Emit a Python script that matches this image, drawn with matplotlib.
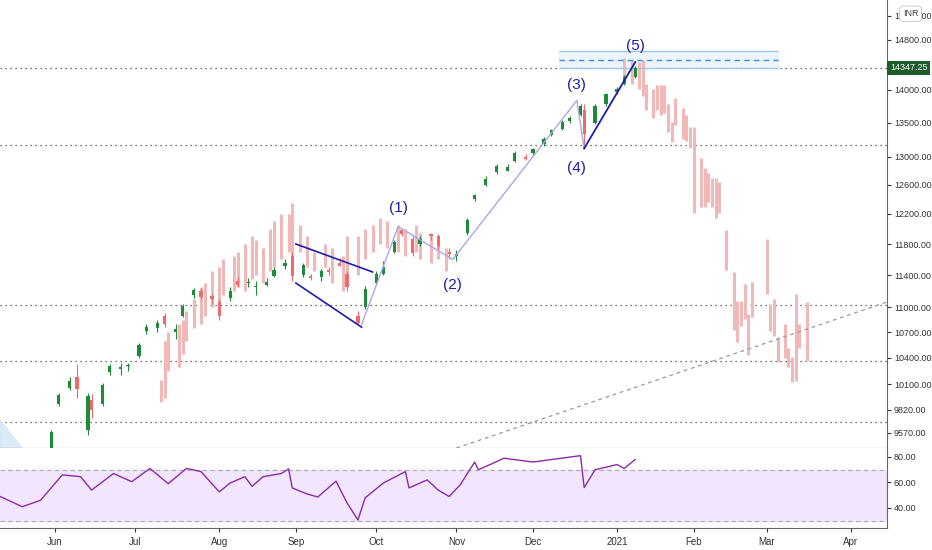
import numpy as np
import matplotlib
matplotlib.use("Agg")
import matplotlib.pyplot as plt
from matplotlib.ticker import FixedLocator, NullLocator

plt.rcParams["font.family"] = ["Liberation Sans", "DejaVu Sans"]

# daily candles (sampled), Nifty 50
candle_dates = ["2020-05-20", "2020-05-26", "2020-05-29",
                "2020-06-02", "2020-06-05", "2020-06-09", "2020-06-12", "2020-06-15", "2020-06-18", "2020-06-22", "2020-06-25", "2020-06-29",
                "2020-07-02", "2020-07-06", "2020-07-09", "2020-07-13", "2020-07-16", "2020-07-20", "2020-07-23", "2020-07-27", "2020-07-30",
                "2020-08-03", "2020-08-06", "2020-08-10", "2020-08-13", "2020-08-17", "2020-08-20", "2020-08-24", "2020-08-27", "2020-08-31",
                "2020-09-03", "2020-09-07", "2020-09-10", "2020-09-14", "2020-09-17", "2020-09-21", "2020-09-24", "2020-09-28",
                "2020-10-01", "2020-10-05", "2020-10-08", "2020-10-12", "2020-10-15", "2020-10-19", "2020-10-22", "2020-10-26", "2020-10-29",
                "2020-11-02", "2020-11-05", "2020-11-09", "2020-11-12", "2020-11-17", "2020-11-20", "2020-11-24", "2020-11-27",
                "2020-12-01", "2020-12-04", "2020-12-08", "2020-12-11", "2020-12-15", "2020-12-18", "2020-12-21", "2020-12-24", "2020-12-29",
                "2021-01-01", "2021-01-05", "2021-01-08"]
opens = [9050, 9100, 9400,
         9880, 10060, 10180, 9600, 9920, 9880, 10240, 10270, 10310,
         10420, 10720, 10750, 10890, 10700, 10900, 11150, 11200, 11140,
         11060, 11120, 11320, 11300, 11250, 11280, 11390, 11520, 11650,
         11400, 11390, 11370, 11460, 11550, 11420, 10900, 11000,
         11300, 11420, 11700, 11980, 11860, 11800, 11930, 11900, 11700,
         11640, 11950, 12400, 12600, 12780, 12800, 12940, 13000,
         13060, 13180, 13320, 13410, 13520, 13620, 13690, 13500, 13790,
         13970, 14100, 14200]
highs = [9150, 9150, 9600,
         10000, 10180, 10330, 10000, 9990, 10110, 10330, 10340, 10340,
         10570, 10800, 10850, 10930, 10800, 11040, 11240, 11240, 11160,
         11100, 11250, 11370, 11360, 11330, 11360, 11500, 11610, 11690,
         11560, 11420, 11480, 11500, 11620, 11450, 10950, 11260,
         11450, 11580, 11850, 11950, 11900, 11900, 11950, 11930, 11750,
         11720, 12140, 12480, 12720, 12900, 12900, 13080, 13040,
         13130, 13290, 13410, 13540, 13600, 13780, 13780, 13780, 13960,
         14050, 14240, 14370]
lows = [8990, 8980, 9380,
        9860, 10040, 9950, 9550, 9730, 9860, 10200, 10200, 10250,
        10400, 10680, 10700, 10760, 10620, 10880, 11120, 11100, 11040,
        10850, 11080, 11250, 11250, 11150, 11260, 11370, 11480, 11330,
        11380, 11340, 11320, 11400, 11520, 11200, 10790, 10980,
        11270, 11400, 11680, 11900, 11650, 11770, 11850, 11740, 11600,
        11580, 11920, 12380, 12580, 12760, 12800, 12920, 12950,
        13020, 13150, 13300, 13390, 13500, 13600, 13130, 13480, 13760,
        13940, 14080, 14180]
closes = [9070, 9030, 9580,
          9980, 10140, 10050, 9970, 9810, 10090, 10310, 10290, 10310,
          10550, 10760, 10810, 10800, 10740, 11020, 11210, 11130, 11100,
          10890, 11200, 11270, 11300, 11250, 11310, 11470, 11560, 11390,
          11530, 11360, 11450, 11440, 11520, 11250, 10810, 11230,
          11420, 11500, 11830, 11930, 11680, 11870, 11900, 11770, 11670,
          11670, 12120, 12460, 12690, 12870, 12860, 13050, 12970,
          13110, 13260, 13390, 13510, 13570, 13760, 13330, 13750, 13930,
          14020, 14200, 14350]

# projected "bars pattern" ghost ranges
ghost_dates = ["2020-07-10", "2020-07-13", "2020-07-14", "2020-07-17", "2020-07-20", "2020-07-21", "2020-07-23", "2020-07-27",
               "2020-07-28", "2020-07-30", "2020-08-03", "2020-08-04", "2020-08-07", "2020-08-10", "2020-08-12", "2020-08-14",
               "2020-08-17", "2020-08-19", "2020-08-21", "2020-08-24", "2020-08-26", "2020-08-28", "2020-08-31", "2020-09-02",
               "2020-09-04", "2020-09-08", "2020-09-11", "2020-09-15", "2020-09-18", "2020-09-21", "2020-09-24", "2020-09-28",
               "2020-09-30", "2020-10-02", "2020-10-06", "2020-10-09", "2020-10-13", "2020-10-16", "2020-10-19", "2020-10-22",
               "2020-10-26", "2020-10-28",
               "2021-01-05", "2021-01-07", "2021-01-11", "2021-01-12", "2021-01-13", "2021-01-15", "2021-01-18", "2021-01-19",
               "2021-01-20", "2021-01-21", "2021-01-22", "2021-01-25", "2021-01-27", "2021-01-28", "2021-01-29", "2021-02-01",
               "2021-02-03", "2021-02-04", "2021-02-05", "2021-02-08", "2021-02-09", "2021-02-10", "2021-02-12", "2021-02-16",
               "2021-02-17", "2021-02-18", "2021-02-19", "2021-02-22", "2021-02-23", "2021-02-25", "2021-02-26", "2021-03-01",
               "2021-03-02", "2021-03-03", "2021-03-04", "2021-03-08", "2021-03-09", "2021-03-10", "2021-03-11", "2021-03-12",
               "2021-03-16"]
ghost_lo = [9900, 9950, 10250, 10300, 10450, 10600, 10750, 10800,
            10900, 11000, 11050, 11150, 11200, 11250, 11200, 11350,
            11400, 11300, 11450, 11500, 11600, 11700, 11650, 11700,
            11500, 11450, 11500, 11300, 11200, 11300, 11400, 11600,
            11700, 11800, 11750, 11700, 11650, 11700, 11600, 11550,
            11600, 11450,
            14150, 14100, 14020, 13910, 13690, 13570, 13690, 13610,
            13640, 13360, 13220, 13470, 13260, 13230, 13120, 12220,
            12290, 12290, 12360, 12290, 12150, 12220, 11460, 10730,
            10580, 10780, 10860, 10430, 10880, 11400, 11600, 11160,
            10710, 10650, 10350, 10400, 10300, 10120, 10140, 10520,
            10360]
ghost_hi = [10150, 10600, 10700, 10800, 10850, 10950, 11100, 11250,
            11300, 11450, 11500, 11600, 11650, 11700, 11800, 11900,
            11850, 11750, 12000, 12100, 12200, 12200, 12350, 12050,
            11900, 11700, 11800, 11750, 11650, 11900, 11900, 12000,
            12050, 12150, 12100, 12050, 12000, 12050, 11950, 11900,
            11850, 11750,
            14510, 14475, 14440, 14475, 14100, 14020, 14070, 14070,
            14070, 13790, 13510, 13880, 13730, 13610, 13430, 13440,
            12980, 12840, 12770, 12700, 12700, 12640, 11980, 11440,
            11080, 11080, 11290, 10920, 11310, 11400, 11600, 11860,
            11040, 11100, 10640, 10800, 10510, 10410, 11160, 10800,
            11060]

rsi_dates = ["2020-05-11", "2020-05-19", "2020-05-26", "2020-06-03", "2020-06-10", "2020-06-15", "2020-06-23", "2020-06-30",
             "2020-07-07", "2020-07-14", "2020-07-21", "2020-07-27", "2020-08-03", "2020-08-06", "2020-08-12", "2020-08-14",
             "2020-08-19", "2020-08-26", "2020-08-28", "2020-08-31", "2020-09-04", "2020-09-09", "2020-09-16", "2020-09-21",
             "2020-09-24", "2020-09-28", "2020-10-05", "2020-10-13", "2020-10-14", "2020-10-21", "2020-10-26", "2020-10-29",
             "2020-11-03", "2020-11-09", "2020-11-10", "2020-11-16", "2020-11-19", "2020-12-01", "2020-12-18", "2020-12-21",
             "2020-12-24", "2021-01-01", "2021-01-05", "2021-01-08"]
rsi_vals = [48.9, 41, 46, 66, 64.5, 54, 67, 60.6,
            71, 59, 71, 68.5, 52.6, 59.6, 64.5, 57,
            64.5, 67, 70.6, 55.7, 51, 48.6, 61, 44,
            30.6, 48, 59.6, 68.5, 55.7, 62, 54, 49,
            58, 76, 70, 75, 79, 76, 81, 56,
            70, 74, 71, 78]

price_ticks = [9570, 9820, 10100, 10400, 10700, 11000, 11400, 11800, 12200, 12600, 13000, 13500, 14000, 14800, 15200]
level_lines = [14347.25, 13170, 11030, 10360, 9690]
month_dates = ["2020-06-01", "2020-07-01", "2020-08-03", "2020-09-01", "2020-10-01", "2020-11-02", "2020-12-01",
               "2021-01-01", "2021-02-01", "2021-03-01", "2021-04-01"]
month_labels = ["Jun", "Jul", "Aug", "Sep", "Oct", "Nov", "Dec", "2021", "Feb", "Mar", "Apr"]

wave_labels = ["(1)", "(2)", "(3)", "(4)", "(5)"]
wave_dates = ["2020-10-09", "2020-10-30", "2020-12-17", "2020-12-17", "2021-01-08"]
wave_prices = [12280, 11270, 14070, 12840, 14700]


def bidx(dates):
    return np.busday_count("2020-06-01", np.array(dates, dtype="datetime64[D]")).astype(float)


BLUE = "#1c1cb0"
GREEN = "#1f8a38"
RED = "#ef6b6b"
GHOST = "#f2b8b8"

fig = plt.figure(figsize=(9.32, 5.5), dpi=100)
ax = fig.add_axes([0, 1 - 448 / 550, 887 / 932, 448 / 550])
rx = fig.add_axes([0, 22 / 550, 887 / 932, 80 / 550], sharex=ax)

# ghost bars
gx = bidx(ghost_dates)
ax.vlines(gx, ghost_lo, ghost_hi, color=GHOST, lw=2.2, zorder=1)

# candles
cx = bidx(candle_dates)
for x, o, h, l, c in zip(cx, opens, highs, lows, closes):
    col = GREEN if c >= o else RED
    ax.vlines(x, l, h, color=col, lw=0.8, zorder=3)
    ax.bar(x, abs(c - o) or 8, bottom=min(o, c), width=0.9, color=col, zorder=3)

# horizontal levels
for lv in level_lines:
    ax.axhline(lv, color="#444444", lw=0.9, ls=(0, (1, 3)), zorder=0)

# target zone at the top
zx = bidx(["2020-12-10", "2021-03-04"])
ax.fill_between(zx, 14350, 14620, color="#dcebfa", alpha=0.5, zorder=0)
ax.hlines([14620, 14350], zx[0], zx[1], color="#9cc4ec", lw=0.9)
ax.hlines(14470, zx[0], zx[1], color="#3a8ee6", lw=1.0, ls=(0, (4, 3)))

# wedge
wx = bidx(["2020-09-01", "2020-09-30"])
ax.plot(wx, [11800, 11440], color=BLUE, lw=1.2, zorder=4)
wx2 = bidx(["2020-09-01", "2020-09-25"])
ax.plot(wx2, [11300, 10760], color=BLUE, lw=1.2, zorder=4)

# wave path
px = bidx(["2020-09-25", "2020-10-09", "2020-10-30", "2020-12-17", "2020-12-21"])
ax.plot(px, [10790, 12030, 11600, 13840, 13120], color="#a8a8e8", lw=1.0, zorder=4)
ax.plot(bidx(["2020-12-21", "2021-01-08"]), [13120, 14440], color=BLUE, lw=1.3, zorder=4)
for lab, d, p in zip(wave_labels, wave_dates, wave_prices):
    ax.text(bidx([d])[0], p, lab, color=BLUE, fontsize=11, ha="center", va="center", zorder=5)

# long dashed trend line
ax.plot(bidx(["2020-11-02", "2021-04-16"]), [9410, 11080], color="#999999", lw=0.9, ls=(0, (3, 3)), zorder=2)

# small triangle at the lower left
tx = bidx(["2020-05-11", "2020-05-19"])
ax.fill([tx[0], tx[1], tx[0]], [9700, 9410, 9410], color="#cfe3f7", alpha=0.7, zorder=0)

ax.set_yscale("log")
ax.set_ylim(9410, 15470)
ax.set_xlim(-15.1, 228)
ax.yaxis.set_major_locator(FixedLocator(price_ticks))
ax.yaxis.set_minor_locator(NullLocator())
ax.set_yticklabels([f"{t:.2f}" for t in price_ticks])
ax.yaxis.tick_right()
ax.tick_params(axis="y", labelsize=6.5, colors="#333333", length=3, pad=2)
ax.tick_params(axis="x", bottom=False, labelbottom=False)
for s in ["top", "left"]:
    ax.spines[s].set_visible(False)
ax.spines["right"].set_color("#666666")
ax.spines["bottom"].set_color("#555555")

ax.text(1.0 + 3 / 887, 14347.25, "14347.25", transform=ax.get_yaxis_transform(), fontsize=6.5, color="white",
        va="center", ha="left", bbox=dict(boxstyle="square,pad=0.3", fc="#1e5c2a", ec="none"), zorder=6)
fig.text(0.977, 0.975, "INR", fontsize=6.5, color="#444444", ha="center", va="center", zorder=10,
         bbox=dict(boxstyle="round,pad=0.35", fc="white", ec="#cccccc", lw=0.7))

# RSI panel
rx.axhspan(30, 70, color="#f1e6fd", zorder=0)
rx.axhline(70, color="#aaaaaa", lw=0.8, ls=(0, (4, 3)))
rx.axhline(30, color="#aaaaaa", lw=0.8, ls=(0, (4, 3)))
rx.plot(bidx(rsi_dates), rsi_vals, color="#8e2aa6", lw=1.0)
rx.set_ylim(24.3, 87)
rx.yaxis.set_major_locator(FixedLocator([40, 60, 80]))
rx.set_yticklabels(["40.00", "60.00", "80.00"])
rx.yaxis.tick_right()
rx.tick_params(axis="y", labelsize=6.5, colors="#333333", length=3, pad=2)
rx.set_xticks(bidx(month_dates))
rx.set_xticklabels(month_labels)
rx.tick_params(axis="x", labelsize=7, colors="#333333", length=3)
for s in ["top", "left"]:
    rx.spines[s].set_visible(False)
rx.spines["right"].set_color("#666666")
rx.spines["bottom"].set_color("#666666")

fig.savefig("out.png", dpi=100)
